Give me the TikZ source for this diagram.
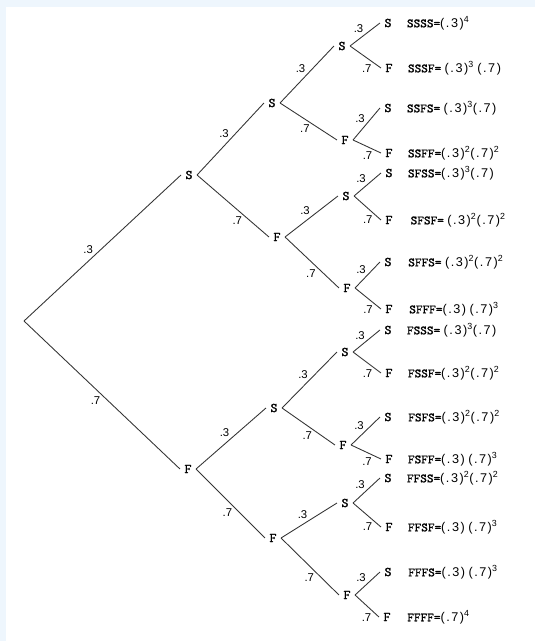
\documentclass[tikz,border=0pt]{standalone}
\usepackage{fontspec}
\setmainfont{Liberation Sans}
\setmonofont[Extension=.otf, FakeBold=1.2]{lmmono10-regular}
\newfontfamily\numfont[LetterSpace=12]{Liberation Sans}
\usepackage{tikz}
\usetikzlibrary{positioning}

\definecolor{sfondo}{RGB}{238,246,253}
\newcommand{\ev}[1]{{\ttfamily\fontsize{9.5}{10}\selectfont #1}}
\newcommand{\pr}[1]{{\numfont(#1)}}
\newcommand{\pw}[1]{\textsuperscript{\numfont #1}}

\begin{document}
\begin{tikzpicture}[
			x=0.75pt, y=-0.75pt,
			esito/.style={font=\ttfamily\fontsize{10}{10}\selectfont, inner sep=3.2pt},
			ramo/.style={draw=black!80, line width=0.65pt},
			p/.style={font=\fontsize{8.5}{9}\selectfont, inner sep=1pt},
			su/.style={p, pos=#1, above left}, su/.default=.5,
			giu/.style={p, pos=#1, below left}, giu/.default=.6,
			formula/.style={font=\fontsize{9.5}{10}\selectfont, inner sep=0pt}
			]
			% sfondo e margini
			\fill[sfondo] (0,0) rectangle (535,641);
			\fill[white] (6,7) rectangle (535,641);
			\useasboundingbox (0,0) rectangle (535,641);
			% radice e primo livello
			\coordinate (R) at (24,321);
			\node[esito] (S) at (189,175) {S};
			\node[esito] (F) at (188,469) {F};
			% secondo livello
			\node[esito] (SS) at (272,103) {S};
			\node[esito] (SF) at (277,237) {F};
			\node[esito] (FS) at (274,408) {S};
			\node[esito] (FF) at (273,538) {F};
			% terzo livello
			\node[esito] (SSS) at (342,46) {S};
			\node[esito] (SSF) at (345,140) {F};
			\node[esito] (SFS) at (346,196) {S};
			\node[esito] (SFF) at (347,288) {F};
			\node[esito] (FSS) at (345,352) {S};
			\node[esito] (FSF) at (343,445) {F};
			\node[esito] (FFS) at (345,503) {S};
			\node[esito] (FFF) at (347,595) {F};
			% quarto livello (foglie)
			\node[esito] (SSSS) at (388,23) {S};
			\node[esito] (SSSF) at (389,68) {F};
			\node[esito] (SSFS) at (388,108) {S};
			\node[esito] (SSFF) at (389,153) {F};
			\node[esito] (SFSS) at (389,173) {S};
			\node[esito] (SFSF) at (389,220) {F};
			\node[esito] (SFFS) at (388,262) {S};
			\node[esito] (SFFF) at (389,309) {F};
			\node[esito] (FSSS) at (388,330) {S};
			\node[esito] (FSSF) at (389,373) {F};
			\node[esito] (FSFS) at (388,417) {S};
			\node[esito] (FSFF) at (389,459) {F};
			\node[esito] (FFSS) at (388,478) {S};
			\node[esito] (FFSF) at (389,527) {F};
			\node[esito] (FFFS) at (388,572) {S};
			\node[esito] (FFFF) at (387,617) {F};
			% rami
			\draw[ramo] (R) edge node[su=.45] {.3} (S.west) edge node[giu=.5] {.7} (F.west);
			\draw[ramo] (S.east) edge node[su] {.3} (SS.west) edge node[giu=.65] {.7} (SF.west);
			\draw[ramo] (F.east) edge node[su=.5] {.3} (FS.west) edge node[giu=.55] {.7} (FF.west);
			\draw[ramo] (SS.east) edge node[su] {.3} (SSS.west) edge node[giu=.55] {.7} (SSF.west);
			\draw[ramo] (SF.east) edge node[su] {.3} (SFS.west) edge node[giu] {.7} (SFF.west);
			\draw[ramo] (FS.east) edge node[su] {.3} (FSS.west) edge node[giu] {.7} (FSF.west);
			\draw[ramo] (FF.east) edge node[su] {.3} (FFS.west) edge node[giu] {.7} (FFF.west);
			\draw[ramo] (SSS.east) edge node[su] {.3} (SSSS.west) edge node[giu=.75] {.7} (SSSF.west);
			\draw[ramo] (SSF.east) edge node[su] {.3} (SSFS.west) edge node[giu=.75] {.7} (SSFF.west);
			\draw[ramo] (SFS.east) edge node[su] {.3} (SFSS.west) edge node[giu=.75] {.7} (SFSF.west);
			\draw[ramo] (SFF.east) edge node[su] {.3} (SFFS.west) edge node[giu=.75] {.7} (SFFF.west);
			\draw[ramo] (FSS.east) edge node[su] {.3} (FSSS.west) edge node[giu=.75] {.7} (FSSF.west);
			\draw[ramo] (FSF.east) edge node[su] {.3} (FSFS.west) edge node[giu=.75] {.7} (FSFF.west);
			\draw[ramo] (FFS.east) edge node[su] {.3} (FFSS.west) edge node[giu=.75] {.7} (FFSF.west);
			\draw[ramo] (FFF.east) edge node[su] {.3} (FFFS.west) edge node[giu=.75] {.7} (FFFF.west);
			% probabilita' degli esiti
			\node[formula, right=8pt of SSSS] (tSSSS) {\ev{SSSS=}\pr{.3}\pw{4}};
			\node[formula, right=8pt of SSSF] (tSSSF) {\ev{SSSF=} \pr{.3}\pw{3} \pr{.7}};
			\node[formula, right=8pt of SSFS] (tSSFS) {\ev{SSFS=} \pr{.3}\pw{3}\pr{.7}};
			\node[formula, right=8pt of SSFF] (tSSFF) {\ev{SSFF=}\pr{.3}\pw{2}\pr{.7}\pw{2}};
			\node[formula, right=8pt of SFSS] (tSFSS) {\ev{SFSS=}\pr{.3}\pw{3}\pr{.7}};
			\node[formula, right=10pt of SFSF] (tSFSF) {\ev{SFSF=} \pr{.3}\pw{2}\pr{.7}\pw{2}};
			\node[formula, right=9pt of SFFS] (tSFFS) {\ev{SFFS=} \pr{.3}\pw{2}\pr{.7}\pw{2}};
			\node[formula, right=9pt of SFFF] (tSFFF) {\ev{SFFF=}\pr{.3} \pr{.7}\pw{3}};
			\node[formula, right=8pt of FSSS] (tFSSS) {\ev{FSSS=} \pr{.3}\pw{3}\pr{.7}};
			\node[formula, right=8pt of FSSF] (tFSSF) {\ev{FSSF=}\pr{.3}\pw{2}\pr{.7}\pw{2}};
			\node[formula, right=9pt of FSFS] (tFSFS) {\ev{FSFS=}\pr{.3}\pw{2}\pr{.7}\pw{2}};
			\node[formula, right=8pt of FSFF] (tFSFF) {\ev{FSFF=}\pr{.3} \pr{.7}\pw{3}};
			\node[formula, right=8pt of FFSS] (tFFSS) {\ev{FFSS=}\pr{.3}\pw{2}\pr{.7}\pw{2}};
			\node[formula, right=8pt of FFSF] (tFFSF) {\ev{FFSF=}\pr{.3} \pr{.7}\pw{3}};
			\node[formula, right=9pt of FFFS] (tFFFS) {\ev{FFFS=}\pr{.3} \pr{.7}\pw{3}};
			\node[formula, right=9pt of FFFF] (tFFFF) {\ev{FFFF=}\pr{.7}\pw{4}};
		\end{tikzpicture}
\end{document}
